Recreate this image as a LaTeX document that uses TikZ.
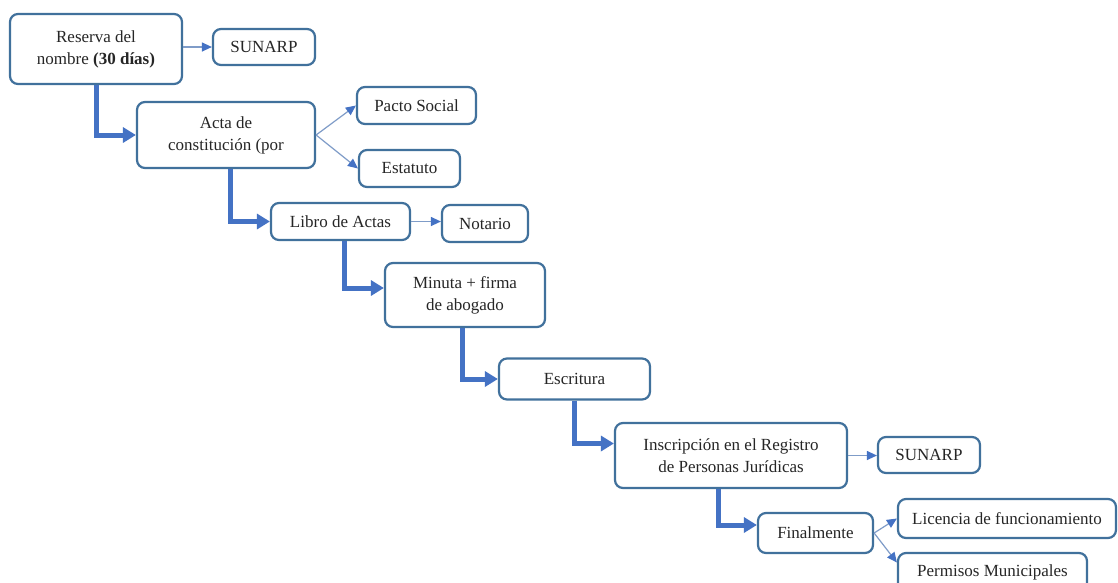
\documentclass[tikz,border=0pt]{standalone}
\usepackage{fontspec}
\setmainfont{Liberation Serif}
\usetikzlibrary{arrows.meta,calc}
\definecolor{boxline}{HTML}{41719C}
\definecolor{flow}{HTML}{4472C4}
\definecolor{thinline}{HTML}{7F9CC8}
\definecolor{txt}{HTML}{262626}
\begin{document}
\begin{tikzpicture}[x=1pt,y=-1pt,
  box/.style={draw=boxline,line width=2.2pt,rounded corners=8pt,fill=white,
    align=center,inner sep=0pt,text=txt,font=\fontsize{17}{22}\selectfont},
  flowarrow/.style={draw=flow,line width=5pt,
    -{Triangle[length=13pt,width=15pt]}},
  thinarrow/.style={draw=thinline,line width=1.2pt,
    -{Triangle[length=10pt,width=9pt,fill=flow,color=flow]}}]
\useasboundingbox (0,0) rectangle (1118,582);
\clip (0,0) rectangle (1118,582);
\fill[white] (0,0) rectangle (1118,582);
% boxes
\node[box,minimum width=172pt,minimum height=70pt] (res) at (96,49) {Reserva del\\nombre \textbf{(30 días)}};
\node[box,minimum width=102pt,minimum height=36pt] (sun1) at (264,47) {SUNARP};
\node[box,minimum width=178pt,minimum height=66pt] (acta) at (226,135) {Acta de\\constitución (por};
\node[box,minimum width=119pt,minimum height=37pt] (pacto) at (416.5,105.5) {Pacto Social};
\node[box,minimum width=101pt,minimum height=37pt] (estat) at (409.5,168.5) {Estatuto};
\node[box,minimum width=139pt,minimum height=37pt] (libro) at (340.5,221.5) {Libro de Actas};
\node[box,minimum width=86pt,minimum height=37pt] (notario) at (485,223.5) {Notario};
\node[box,minimum width=160pt,minimum height=64pt] (minuta) at (465,295) {Minuta + firma\\de abogado};
\node[box,minimum width=151pt,minimum height=41pt] (escr) at (574.5,379) {Escritura};
\node[box,minimum width=232pt,minimum height=65pt] (inscr) at (731,455.5) {Inscripción en el Registro\\de Personas Jurídicas};
\node[box,minimum width=102pt,minimum height=36pt] (sun2) at (929,455) {SUNARP};
\node[box,minimum width=115pt,minimum height=40pt] (final) at (815.5,533) {Finalmente};
\node[box,minimum width=218pt,minimum height=39pt] (lic) at (1007,518.5) {Licencia de funcionamiento};
\node[box,minimum width=189pt,minimum height=39pt] (perm) at (992.5,572.5) {Permisos Municipales};
% main flow
\draw[flowarrow] (res.south) |- (acta.west);
\draw[flowarrow] ([xshift=4pt]acta.south) |- (libro.west);
\draw[flowarrow] ([xshift=4pt]libro.south) |- ([yshift=7pt]minuta.west);
\draw[flowarrow] ([xshift=-3pt]minuta.south) |- (escr.west);
\draw[flowarrow] (escr.south) |- ([yshift=12pt]inscr.west);
\draw[flowarrow] ([xshift=-13pt]inscr.south) |- ([yshift=8pt]final.west);
% side arrows
\draw[thinarrow] (res.east |- sun1.west) -- (sun1.west);
\draw[thinarrow] (acta.east) -- (pacto.west);
\draw[thinarrow] (acta.east) -- (estat.west);
\draw[thinarrow] (libro.east) -- (libro.east -| notario.west);
\draw[thinarrow] (inscr.east) -- (inscr.east -| sun2.west);
\draw[thinarrow] (final.east) -- (lic.west);
\draw[thinarrow] (final.east) -- ([yshift=10pt]perm.west);
\end{tikzpicture}
\end{document}
